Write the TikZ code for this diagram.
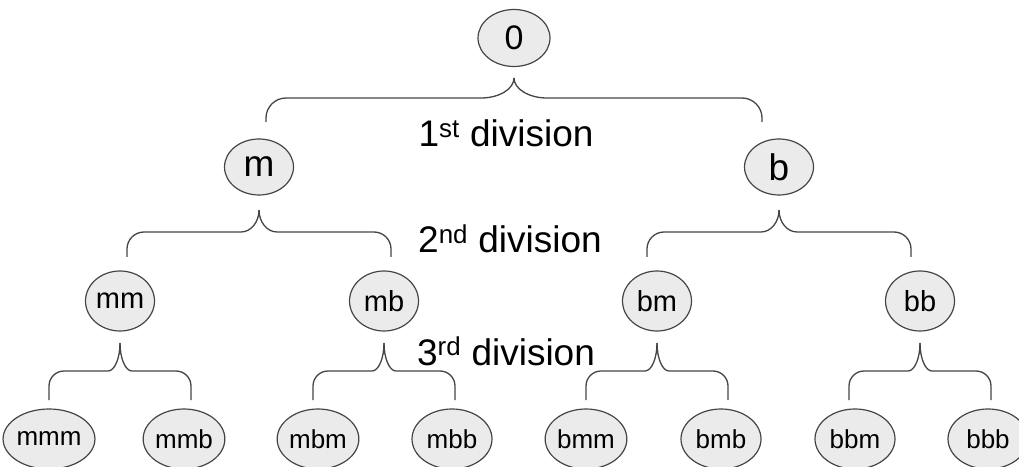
\documentclass[tikz,border=0pt]{standalone}
\usepackage{fontspec}
\setmainfont{Liberation Sans}
\usetikzlibrary{shapes.geometric}
\definecolor{cellfill}{HTML}{EBEBEB}
\definecolor{cellline}{HTML}{454545}

\tikzset{
  cell/.style={ellipse, draw=cellline, fill=cellfill, line width=1.2pt, inner sep=0pt},
  rootcell/.style={cell, minimum width=72pt, minimum height=57pt, font=\fontsize{34}{40}\selectfont},
  midcell/.style={cell, minimum width=69pt, minimum height=56pt, font=\fontsize{37}{44}\selectfont},
  lowcell/.style={cell, minimum width=69pt, minimum height=60pt, font=\fontsize{29}{35}\selectfont},
  leafcell/.style={cell, minimum width=80pt, minimum height=60pt, font=\fontsize{26}{31}\selectfont},
  brace line/.style={draw=cellline, line width=1.3pt},
  division/.style={anchor=base, inner sep=0pt, font=\fontsize{37}{44}\selectfont}
}

% parent, tip y, drop to bar, drop to ends, half width, tip curl, end curl
\newcommand{\splitbrace}[7]{%
  \foreach \side in {-1,1}{%
    \draw[brace line] (#1 |- 0,#2)
      .. controls +(0,{-0.55*#3}) and +({\side*(-0.55*#6)},0) .. ++({\side*#6},{-#3})
      -- ++({\side*(#5-#6-#7)},0)
      .. controls +({\side*0.55*#7},0) and +(0,{0.55*#7}) .. ++({\side*#7},{-#7})
      -- ++(0,{-(#4-#3-#7)});
  }%
}

\begin{document}
\begin{tikzpicture}[x=1pt, y=1pt]
\useasboundingbox (0,0) rectangle (1019,466);
\node[rootcell] (o) at (514,428) {0};
\node[midcell] (m) at (259,299) {m};
\node[midcell] (b) at (779,299) {b};
\node[lowcell] (mm) at (120,165) {mm};
\node[lowcell] (mb) at (384,165) {mb};
\node[lowcell] (bm) at (657,165) {bm};
\node[lowcell] (bb) at (920,165) {bb};
\node[leafcell] (mmm) at (49,27) {mmm};
\node[leafcell] (mmb) at (184,27) {mmb};
\node[leafcell] (mbm) at (318,27) {mbm};
\node[leafcell] (mbb) at (452,27) {mbb};
\node[leafcell] (bmm) at (586,27) {bmm};
\node[leafcell] (bmb) at (721,27) {bmb};
\node[leafcell] (bbm) at (855,27) {bbm};
\node[leafcell] (bbb) at (988,27) {bbb};
\node[division] (div1) at (506,319) {1\textsuperscript{st} division};
\node[division] (div2) at (510,213) {2\textsuperscript{nd} division};
\node[division] (div3) at (506,101) {3\textsuperscript{rd} division};
\splitbrace{o}{388}{20}{44}{248}{33}{20}
\splitbrace{m}{256}{22}{47}{132}{18}{17}
\splitbrace{b}{256}{22}{47}{132}{18}{17}
\splitbrace{mm}{123}{28}{57}{71}{12}{15}
\splitbrace{mb}{123}{28}{57}{71}{12}{15}
\splitbrace{bm}{123}{28}{57}{71}{12}{15}
\splitbrace{bb}{123}{28}{57}{71}{12}{15}
\end{tikzpicture}
\end{document}
